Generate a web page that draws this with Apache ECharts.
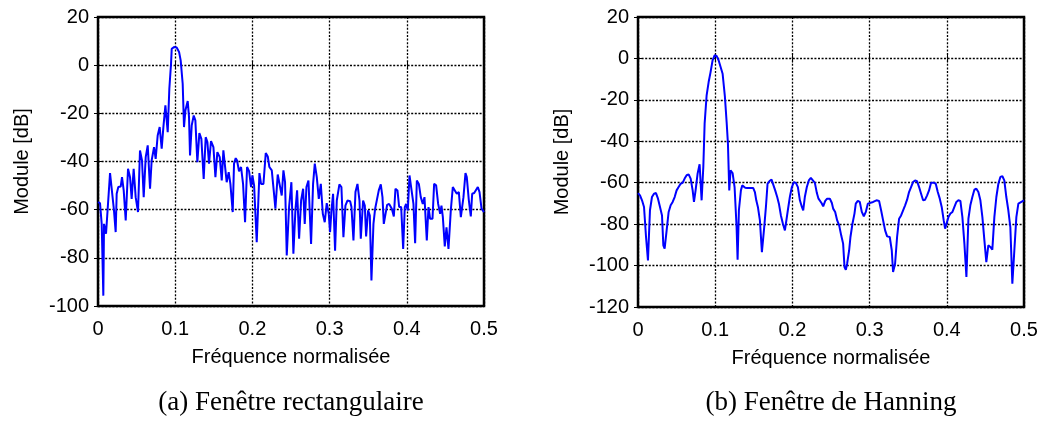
<!DOCTYPE html>
<html><head><meta charset="utf-8">
<script src="https://cdn.jsdelivr.net/npm/echarts@6/dist/echarts.min.js"></script>
<style>html,body{margin:0;padding:0;background:#fff}#c{width:1046px;height:432px}</style>
</head><body><div id="c"></div><script>
// Tick values
const xTicks = [0, 0.1, 0.2, 0.3, 0.4, 0.5];
const yTicksA = [20, 0, -20, -40, -60, -80, -100];
const yTicksB = [20, 0, -20, -40, -60, -80, -100, -120];

// (a) Rectangular window
const freqA = [0,.0026,.0048,.0069,.0078,.0104,.0121,.0156,.0181,.0207,
.0229,.0242,.0263,.0294,.0311,.0333,.0359,.0389,.0415,.0436,
.0462,.0488,.0518,.0544,.0570,.0592,.0618,.0644,.0674,.0695,
.0726,.0747,.0773,.0799,.0825,.0847,.0873,.0903,.0924,.0946,
.0955,.0985,.1019,.1050,.1071,.1097,.1114,.1132,.1162,.1179,
.1192,.1214,.1240,.1261,.1287,.1313,.1339,.1369,.1395,.1417,
.1438,.1464,.1495,.1521,.1546,.1577,.1603,.1624,.1646,.1667,
.1693,.1715,.1745,.1762,.1784,.1801,.1827,.1853,.1879,.1905,
.1931,.1957,.1983,.2000,.2022,.2056,.2091,.2112,.2143,.2173,
.2199,.2220,.2251,.2276,.2298,.2328,
.2359,.2380,.2402,.2423,.2445,.2475,.2505,.2531,.2557,.2579,
.2605,.2631,.2657,.2678,.2700,.2726,.2760,.2786,.2808,.2834,
.2860,.2886,.2912,.2937,.2963,.2989,.3006,.3024,.3045,.3071,
.3093,.3127,.3153,.3179,.3205,.3231,.3266,.3283,.3309,.3335,
.3361,.3387,.3404,.3434,.3456,.3473,.3499,.3521,.3542,.3568,
.3590,.3611,.3637,.3663,.3685,.3702,.3724,.3745,.3771,.3806,
.3832,.3853,.3879,.3901,.3927,.3953,.3974,.3991,.4013,.4035,
.4060,.4086,.4108,.4130,.4156,.4181,.4207,.4229,.4259,.4281,
.4302,.4333,.4354,.4380,.4406,.4432,.4449,.4467,.4492,.4514,
.4540,.4570,.4596,.4622,.4648,.4674,.4700,.4734,.4760,.4777,
.4803,.4829,.4847,.4873,.4898,.4920,.4942,.4968,.5];
const modA = [-56.9,-57.3,-65.9,-95.7,-65.9,-70.0,-70.3,-44.8,-45.1,-60.3,
-69.3,-53.4,-50.6,-50.4,-46.5,-52.0,-64.5,-43.0,-46.5,-55.5,
-43.0,-54.8,-61.0,-35.4,-39.6,-54.8,-38.2,-33.3,-51.3,-39.6,
-34.0,-38.9,-29.2,-25.7,-34.7,-25.7,-16.7,-27.8,-9.8,0.6,
6.8,7.5,7.3,5.5,2.0,-7.7,-25.7,-18.8,-14.9,-21.6,
-37.5,-25.0,-20.9,-22.9,-40.3,-28.2,-30.6,-47.2,-29.9,-31.9,
-40.9,-31.5,-34.0,-46.5,-36.1,-38.2,-47.9,-35.4,-36.1,-48.6,
-44.4,-49.3,-61.0,-40.9,-38.6,-39.6,-44.1,-42.3,-49.3,-65.2,
-42.3,-44.0,-50.6,-45.8,-49.9,-73.5,-44.8,-49.3,-49.3,-36.5,
-37.9,-42.3,-43.7,-52.0,-59.6,-45.4,
-50.6,-54.1,-43.7,-48.6,-79.0,-58.9,-48.6,-78.3,-60.3,-52.0,
-72.1,-56.2,-51.3,-65.9,-50.6,-47.9,-74.2,-49.3,-40.9,-46.5,
-55.5,-49.3,-61.7,-65.2,-57.3,-61.7,-69.3,-60.3,-53.4,-77.0,
-56.2,-49.5,-50.6,-71.4,-58.3,-56.2,-56.5,-58.9,-72.8,-52.7,
-49.3,-56.2,-72.1,-56.2,-58.3,-71.1,-60.3,-62.4,-89.4,-65.9,
-59.6,-58.9,-52.0,-49.5,-54.8,-65.9,-65.2,-58.0,-57.6,-59.6,
-62.8,-51.3,-52.0,-58.9,-58.9,-76.3,-58.9,-57.6,-60.3,-45.8,
-45.4,-57.6,-73.9,-47.9,-49.3,-54.8,-57.6,-54.8,-72.8,-58.9,
-63.8,-63.8,-49.3,-49.9,-57.6,-61.7,-58.3,-63.1,-75.3,-67.3,
-76.3,-60.3,-50.6,-52.0,-53.4,-52.7,-63.1,-54.8,-44.8,-46.5,
-55.9,-62.8,-53.4,-53.1,-53.4,-50.6,-52.7,-59.6,-61.0];

// (b) Hanning window
const freqB = [0,.0026,.0052,.0078,.0104,.0129,.0155,.0181,.0207,.0233,
.0259,.0285,.0311,.0328,.0345,.0371,.0397,.0423,.0449,.0475,
.0500,.0526,.0552,.0578,.0604,.0630,.0656,.0682,.0708,.0725,
.0746,.0772,.0798,.0824,.0846,.0863,.0889,.0915,.0940,.0966,
.0992,.1018,.1044,.1070,.1096,
.1126,.1148,.1165,.1182,.1199,.1225,.1251,.1277,.1290,.1307,
.1333,.1350,.1372,.1389,.1415,.1450,.1493,.1514,.1532,.1553,
.1579,.1605,.1635,.1657,.1678,.1704,.1730,.1752,.1777,.1803,
.1825,.1851,.1877,.1903,.1920,.1941,.1967,.1993,.2019,.2045,
.2071,.2097,.2123,.2140,.2161,.2187,.2213,.2239,.2265,.2291,.2317,.2338,
.2355,.2377,.2399,.2425,.2450,.2485,.2511,.2528,.2554,.2580,
.2606,.2632,.2657,.2675,.2692,.2709,.2735,.2752,.2778,.2804,
.2821,.2847,.2873,.2899,.2925,.2951,.2977,.3002,.3046,.3089,
.3123,.3149,.3175,.3201,.3227,.3261,.3287,.3304,.3330,.3356,
.3382,.3408,.3434,.3460,.3486,.3511,.3537,.3563,.3589,.3615,
.3641,.3667,.3693,.3719,.3745,.3770,.3796,.3831,.3857,.3883,
.3909,.3934,.3960,.3978,.3995,.4021,.4047,.4073,.4098,.4124,
.4150,.4176,.4202,.4228,.4254,.4280,.4305,.4331,.4357,.4383,
.4409,.4435,.4461,.4487,.4512,.4538,.4564,.4590,.4616,.4642,
.4668,.4694,.4720,.4745,.4771,.4797,.4823,.4849,.4875,.4901,
.4927,.4952,.5];
const modB = [-65.0,-66.1,-68.5,-71.7,-86.2,-97.5,-73.3,-66.9,-65.3,-65.0,
-67.7,-71.7,-75.8,-90.2,-91.8,-83.0,-74.1,-70.9,-69.3,-66.9,
-63.7,-62.1,-60.5,-60.1,-58.0,-56.4,-56.0,-58.0,-63.7,-69.3,
-63.7,-55.6,-51.1,-68.5,-52.4,-31.5,-17.8,-11.4,-6.6,-0.9,
1.5,1.2,-0.9,-4.1,-7.4,
-18.6,-30.7,-41.2,-63.7,-54.0,-55.3,-62.1,-81.4,-97.2,-73.3,
-63.7,-61.3,-60.5,-62.4,-62.6,-62.6,-62.6,-64.5,-68.5,-71.7,
-78.2,-93.5,-81.4,-71.7,-60.5,-59.2,-58.5,-58.9,-63.7,-66.9,
-70.1,-75.8,-79.8,-83.0,-83.8,-73.3,-66.9,-62.1,-59.7,-60.1,
-62.1,-68.5,-71.7,-73.3,-66.9,-62.1,-58.9,-57.7,-58.9,-60.1,-65.0,-67.7,
-67.7,-69.8,-71.4,-68.8,-67.7,-67.7,-69.8,-72.5,-74.1,-78.2,
-80.6,-85.4,-89.4,-100.7,-102.0,-99.1,-92.6,-86.2,-79.8,-74.9,
-70.1,-68.8,-69.3,-74.1,-76.2,-74.1,-70.1,-69.3,-69.3,-68.5,
-68.8,-73.3,-78.2,-83.0,-85.9,-86.2,-92.6,-103.1,-99.1,-86.2,
-77.4,-75.8,-73.3,-70.9,-68.2,-64.5,-62.1,-59.7,-58.9,-59.3,
-62.1,-65.3,-68.5,-68.2,-66.1,-63.7,-60.0,-60.0,-60.5,-64.5,
-67.7,-71.7,-78.2,-82.2,-81.4,-76.6,-74.9,-74.1,-73.8,-69.3,
-68.5,-68.8,-76.6,-89.4,-105.5,-77.4,-70.9,-66.9,-63.4,-62.9,
-64.5,-68.5,-76.6,-87.8,-98.3,-90.2,-91.0,-92.3,-76.6,-66.9,
-60.5,-57.2,-56.9,-58.9,-66.9,-73.3,-81.4,-108.7,-92.6,-76.6,
-70.1,-69.3,-68.5];

const SANS = '"Liberation Sans", Arial, sans-serif';
const SERIF = '"Liberation Serif", "Times New Roman", serif';

function xAx(grid, main) {
  return {
    type: 'value', gridIndex: grid, position: main ? 'bottom' : 'top',
    min: xTicks[0], max: xTicks[xTicks.length - 1], interval: xTicks[1] - xTicks[0],
    axisLine: { show: false },
    axisTick: { show: true, inside: true, length: 4, lineStyle: { color: '#000', width: 1 } },
    axisLabel: { show: main, color: '#000', fontSize: 20, fontFamily: SANS, margin: 13 },
    splitLine: { show: main, lineStyle: { color: '#000', type: [2, 1.6], width: 1.3 } },
    name: main ? 'Fréquence normalisée' : '', nameLocation: 'middle', nameGap: 41,
    nameTextStyle: { color: '#000', fontSize: 20, fontFamily: SANS }
  };
}
function yAx(grid, ticks, main) {
  return {
    type: 'value', gridIndex: grid, position: main ? 'left' : 'right',
    min: ticks[ticks.length - 1], max: ticks[0], interval: ticks[0] - ticks[1],
    axisLine: { show: false },
    axisTick: { show: true, inside: true, length: 4, lineStyle: { color: '#000', width: 1 } },
    axisLabel: { show: main, color: '#000', fontSize: 20, fontFamily: SANS, margin: 9 },
    splitLine: { show: main, lineStyle: { color: '#000', type: [2, 1.6], width: 1.3 } },
    name: main ? 'Module [dB]' : '', nameLocation: 'middle', nameGap: 66, nameRotate: 90,
    nameTextStyle: { color: '#000', fontSize: 20, fontFamily: SANS }
  };
}
function pairs(fs, vs) { return fs.map((f, i) => [f, vs[i]]); }

const chart = echarts.init(document.getElementById('c'), null, { renderer: 'canvas' });
chart.setOption({
  animation: false,
  backgroundColor: '#fff',
  grid: [
    { left: 98, top: 17, width: 386, height: 289, show: true, borderColor: '#000', borderWidth: 2.5, backgroundColor: 'transparent' },
    { left: 638, top: 17, width: 386, height: 290, show: true, borderColor: '#000', borderWidth: 2.5, backgroundColor: 'transparent' }
  ],
  xAxis: [xAx(0, true), xAx(1, true), xAx(0, false), xAx(1, false)],
  yAxis: [yAx(0, yTicksA, true), yAx(1, yTicksB, true), yAx(0, yTicksA, false), yAx(1, yTicksB, false)],
  series: [
    { type: 'line', xAxisIndex: 0, yAxisIndex: 0, data: pairs(freqA, modA), showSymbol: false,
      lineStyle: { color: '#0000ff', width: 2 }, itemStyle: { color: '#0000ff' } },
    { type: 'line', xAxisIndex: 1, yAxisIndex: 1, data: pairs(freqB, modB), showSymbol: false,
      lineStyle: { color: '#0000ff', width: 2 }, itemStyle: { color: '#0000ff' } }
  ],
  graphic: [
    { type: 'text', x: 291, y: 403, style: { text: '(a) Fenêtre rectangulaire', fill: '#000',
      font: '27px ' + SERIF, align: 'center', verticalAlign: 'middle' } },
    { type: 'text', x: 831, y: 403, style: { text: '(b) Fenêtre de Hanning', fill: '#000',
      font: '27px ' + SERIF, align: 'center', verticalAlign: 'middle' } }
  ]
});
</script></body></html>
